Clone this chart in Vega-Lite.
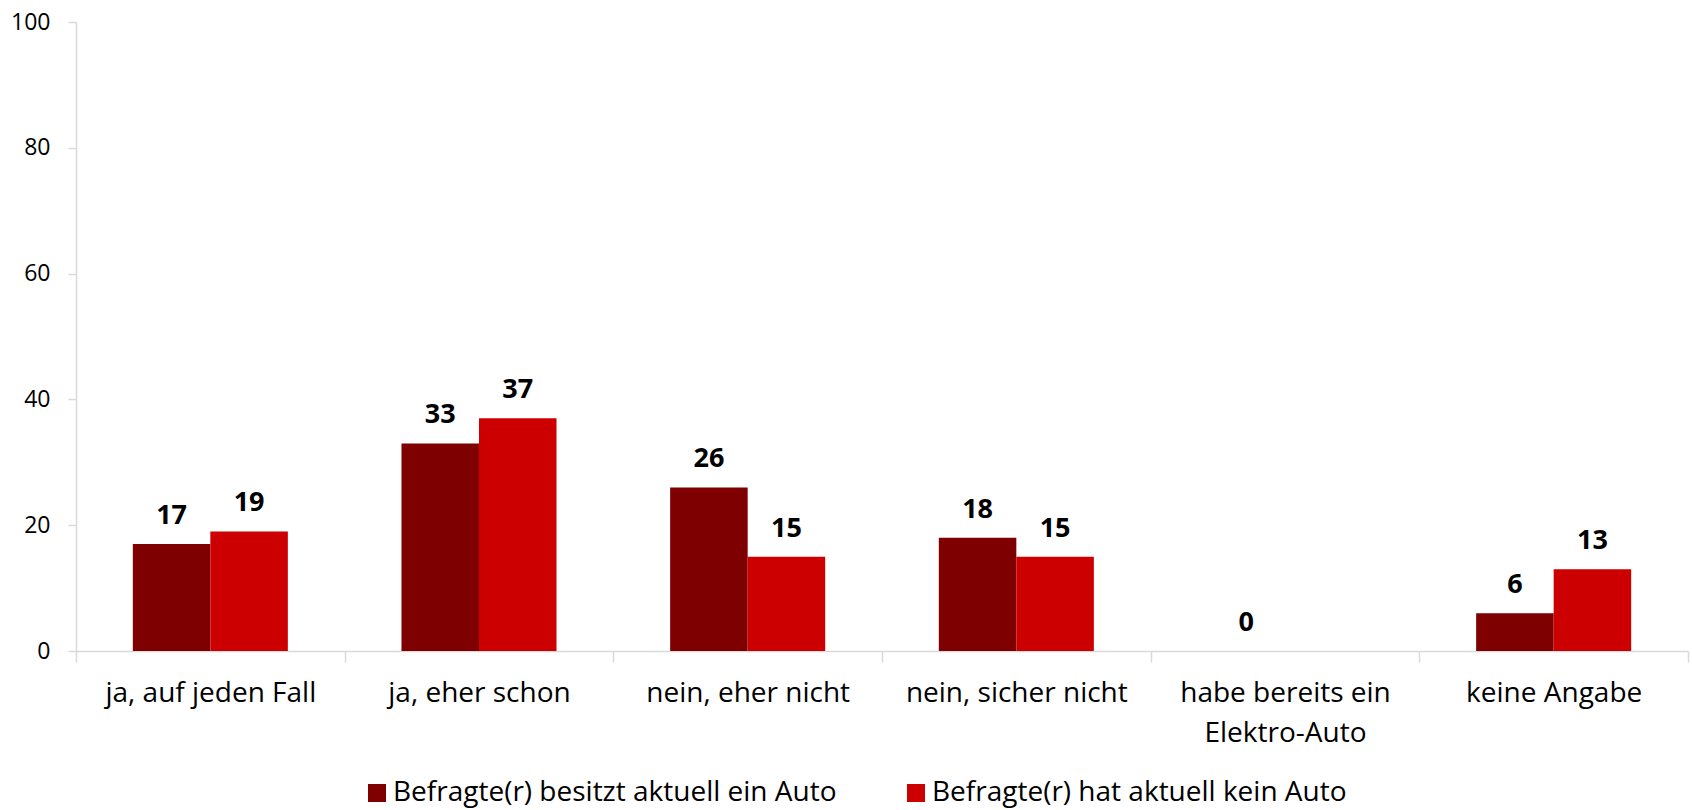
{
  "$schema": "https://vega.github.io/schema/vega-lite/v6.json",
  "autosize": {"type": "none"},
  "padding": {"left": 76, "top": 22, "right": 4, "bottom": 159},
  "width": 1612,
  "height": 629,
  "background": "white",
  "config": {"view": {"stroke": null}, "font": "Open Sans"},
  "data": {
    "values": [
      {"kategorie": "ja, auf jeden Fall", "gruppe": "Befragte(r) besitzt aktuell ein Auto", "wert": 17},
      {"kategorie": "ja, auf jeden Fall", "gruppe": "Befragte(r) hat aktuell kein Auto", "wert": 19},
      {"kategorie": "ja, eher schon", "gruppe": "Befragte(r) besitzt aktuell ein Auto", "wert": 33},
      {"kategorie": "ja, eher schon", "gruppe": "Befragte(r) hat aktuell kein Auto", "wert": 37},
      {"kategorie": "nein, eher nicht", "gruppe": "Befragte(r) besitzt aktuell ein Auto", "wert": 26},
      {"kategorie": "nein, eher nicht", "gruppe": "Befragte(r) hat aktuell kein Auto", "wert": 15},
      {"kategorie": "nein, sicher nicht", "gruppe": "Befragte(r) besitzt aktuell ein Auto", "wert": 18},
      {"kategorie": "nein, sicher nicht", "gruppe": "Befragte(r) hat aktuell kein Auto", "wert": 15},
      {"kategorie": "habe bereits ein Elektro-Auto", "gruppe": "Befragte(r) besitzt aktuell ein Auto", "wert": 0},
      {"kategorie": "keine Angabe", "gruppe": "Befragte(r) besitzt aktuell ein Auto", "wert": 6},
      {"kategorie": "keine Angabe", "gruppe": "Befragte(r) hat aktuell kein Auto", "wert": 13}
    ]
  },
  "encoding": {
    "x": {
      "field": "kategorie",
      "type": "nominal",
      "sort": null,
      "scale": {"paddingInner": 0, "paddingOuter": 0},
      "axis": {
        "title": null,
        "labelAngle": 0,
        "domainColor": "#d9d9d9",
        "domainWidth": 1.5,
        "tickColor": "#d9d9d9",
        "tickSize": 11,
        "tickWidth": 1.5,
        "tickBand": "extent",
        "labelFont": "Open Sans",
        "labelFontSize": 28,
        "labelColor": "black",
        "labelPadding": 17,
        "labelLimit": 0,
        "labelLineHeight": 40,
        "labelExpr": "datum.value == 'habe bereits ein Elektro-Auto' ? ['habe bereits ein', 'Elektro-Auto'] : datum.label"
      }
    },
    "xOffset": {
      "field": "gruppe",
      "type": "nominal",
      "sort": null,
      "scale": {"paddingInner": 0, "paddingOuter": 0.733}
    },
    "y": {
      "field": "wert",
      "type": "quantitative",
      "scale": {"domain": [0, 100]},
      "axis": {
        "title": null,
        "values": [0, 20, 40, 60, 80, 100],
        "grid": false,
        "domainColor": "#d9d9d9",
        "domainWidth": 1.5,
        "tickColor": "#d9d9d9",
        "tickSize": 8,
        "tickWidth": 1.5,
        "labelFont": "Open Sans",
        "labelFontSize": 23,
        "labelColor": "black",
        "labelPadding": 18
      }
    }
  },
  "layer": [
    {
      "mark": {"type": "bar"},
      "encoding": {
        "color": {
          "field": "gruppe",
          "type": "nominal",
          "scale": {
            "domain": ["Befragte(r) besitzt aktuell ein Auto", "Befragte(r) hat aktuell kein Auto"],
            "range": ["#7f0000", "#cc0000"]
          },
          "legend": {
            "title": null,
            "orient": "none",
            "legendX": 287,
            "legendY": 757,
            "direction": "horizontal",
            "symbolType": "square",
            "symbolSize": 324,
            "symbolStrokeWidth": 0,
            "labelFont": "Open Sans",
            "labelFontSize": 28,
            "labelColor": "black",
            "labelLimit": 0,
            "labelOffset": 2,
            "columnPadding": 65
          }
        }
      }
    },
    {
      "mark": {"type": "text", "baseline": "alphabetic", "dy": -20, "font": "Open Sans", "fontSize": 27, "fontWeight": "bold", "color": "black"},
      "encoding": {"text": {"field": "wert", "type": "quantitative"}}
    }
  ]
}
